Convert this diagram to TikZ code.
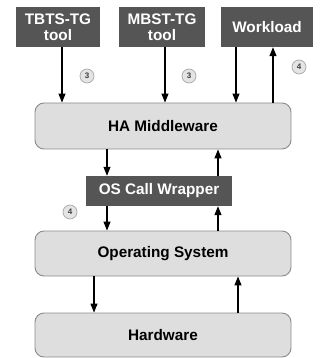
\documentclass[tikz,border=0pt]{standalone}
\usepackage{fontspec}
\setmainfont{Liberation Sans}
\usetikzlibrary{arrows.meta}
\definecolor{darkbox}{HTML}{555555}
\definecolor{lightbox}{HTML}{DEDEDE}
\definecolor{lightedge}{HTML}{8A8A8A}
\definecolor{circfill}{HTML}{E4E4E4}
\definecolor{circedge}{HTML}{A8A8A8}
\tikzset{
  darkstyle/.style={draw=none, fill=darkbox, text=white, font=\bfseries\fontsize{15.3}{16.5}\selectfont, align=center, inner sep=0pt},
  layerstyle/.style={draw=lightedge, line width=0.9pt, fill=lightbox, rounded corners=9pt, font=\bfseries\fontsize{15.3}{16.5}\selectfont, inner sep=0pt, minimum width=256pt},
  badge/.style={circle, draw=circedge, line width=0.7pt, fill=circfill, minimum size=14pt, inner sep=0pt, font=\bfseries\fontsize{8}{9}\selectfont, text=black!75},
  arr/.style={line width=1.1pt, -{Triangle[width=7pt,length=9pt]}}
}
\begin{document}
\begin{tikzpicture}[x=1pt,y=-1pt]
\useasboundingbox (0,0) rectangle (321,358);
% top boxes
\node[darkstyle, minimum width=84pt, minimum height=40pt] (tbts) at (58,27) {TBTS-TG\\tool};
\node[darkstyle, minimum width=86pt, minimum height=40pt] (mbst) at (162,27) {MBST-TG\\tool};
\node[darkstyle, minimum width=92pt, minimum height=40pt] (work) at (267,27) {Workload};
% layers
\node[layerstyle, minimum height=46pt] (ha) at (163,126) {HA Middleware};
\node[darkstyle, minimum width=146pt, minimum height=30pt] (wrap) at (159,191) {OS Call Wrapper};
\node[layerstyle, minimum height=45pt] (os) at (163,253.5) {Operating System};
\node[layerstyle, minimum height=44pt] (hw) at (163,335) {Hardware};
% badges
\node[badge] (b1) at (87,76) {3};
\node[badge] (b2) at (189,76) {3};
\node[badge] (b3) at (299,67) {4};
\node[badge] (b4) at (70,212) {4};
% arrows
\draw[arr] ([xshift=4pt]tbts.south) -- ([xshift=4pt]tbts.south |- ha.north);
\draw[arr] ([xshift=3pt]mbst.south) -- ([xshift=3pt]mbst.south |- ha.north);
\draw[arr] ([xshift=-31pt]work.south) -- ([xshift=-31pt]work.south |- ha.north);
\draw[arr] ([xshift=6pt]work.south |- ha.north) -- ([xshift=6pt]work.south);
\draw[arr] ([xshift=-52pt]wrap.north |- ha.south) -- ([xshift=-52pt]wrap.north);
\draw[arr] ([xshift=59pt]wrap.north) -- ([xshift=59pt]wrap.north |- ha.south);
\draw[arr] ([xshift=-52pt]wrap.south) -- ([xshift=-52pt]wrap.south |- os.north);
\draw[arr] ([xshift=59pt]wrap.south |- os.north) -- ([xshift=59pt]wrap.south);
\draw[arr] ([xshift=-69pt]os.south) -- ([xshift=-69pt]os.south |- hw.north);
\draw[arr] ([xshift=75pt]os.south |- hw.north) -- ([xshift=75pt]os.south);
\end{tikzpicture}
\end{document}
